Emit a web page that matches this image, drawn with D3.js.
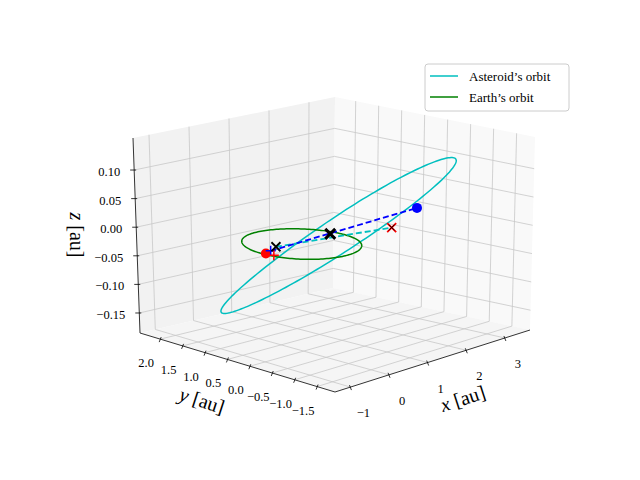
<!DOCTYPE html>
<html><head><meta charset="utf-8">
<script src="https://cdn.jsdelivr.net/npm/d3@7"></script>
<style>body{margin:0;background:#fff}text{font-family:"Liberation Serif","DejaVu Serif",serif}</style>
</head><body><div id="chart"></div>
<script>
// axis limits
const xLim = [-1.4, 3.65], yLim = [-1.9, 2.45], zLim = [-0.185, 0.156];
const xTicks = [-1, 0, 1, 2, 3];
const yTicks = [2.0, 1.5, 1.0, 0.5, 0.0, -0.5, -1.0, -1.5];
const zTicks = [0.10, 0.05, 0.00, -0.05, -0.10, -0.15];

// Earth's orbit: centre + radius (z=0 plane)
const earthCenter = [0, 0, 0];
const earthRadius = 1.0;
// Asteroid's orbit: centre and two conjugate semi-axes
const astCenter = [1.12, 0.2, -0.011];
const astAxisA = [1.50, -1.30, 0.132];
const astAxisB = [1.98, 1.61, -0.094];

// markers [x, y, z]
const earthPos = [-0.94, -0.03, 0];
const asteroidPos = [1.71, -1.05, 0.052];
const bluePlus = [-0.75, 0.03, 0];
const redPlus = [-0.92, -0.19, 0];
const blackSmallX = [-0.48, 0.15, 0];
const blackBigX = [0.86, 0.12, 0];
const redX = [1.76, -0.45, 0.006];

const width = 640, height = 480;
const svg = d3.select('#chart').append('svg').attr('width', width).attr('height', height);

// screen position of the eight box corners, keyed by u,v,w in {0,1}
const corners = {
  '000': [335, 392], '100': [530, 330], '010': [140, 333], '110': [333, 288],
  '001': [329, 188], '101': [535, 137], '011': [133, 138], '111': [335, 97]
};
const su = d3.scaleLinear().domain(xLim).range([0, 1]);
const sv = d3.scaleLinear().domain(yLim).range([0, 1]);
const sw = d3.scaleLinear().domain(zLim).range([0, 1]);

function projN(u, v, w) {
  let X = 0, Y = 0;
  for (const a of [0, 1]) for (const b of [0, 1]) for (const c of [0, 1]) {
    const k = (a ? u : 1 - u) * (b ? v : 1 - v) * (c ? w : 1 - w);
    const p = corners['' + a + b + c];
    X += k * p[0]; Y += k * p[1];
  }
  return [X, Y];
}
const proj = d => projN(su(d[0]), sv(d[1]), sw(d[2]));
const line = d3.line();

// panes
const pane = (pts, fill) => svg.append('path').attr('d', line(pts.map(p => projN(...p))) + 'Z').attr('fill', fill).attr('stroke', 'none');
pane([[0,1,0],[1,1,0],[1,1,1],[0,1,1]], '#f2f2f2');
pane([[1,0,0],[1,1,0],[1,1,1],[1,0,1]], '#f9f9f9');
pane([[0,0,0],[1,0,0],[1,1,0],[0,1,0]], '#f5f5f5');

// grid
const g = svg.append('g').attr('stroke', '#c8c8c8').attr('stroke-width', 0.8).attr('fill', 'none');
const seg = (a, b) => g.append('path').attr('d', line([projN(...a), projN(...b)]));
xTicks.forEach(t => { const u = su(t); seg([u,0,0],[u,1,0]); seg([u,1,0],[u,1,1]); });
yTicks.forEach(t => { const v = sv(t); seg([0,v,0],[1,v,0]); seg([1,v,0],[1,v,1]); });
zTicks.forEach(t => { const w = sw(t); seg([0,1,w],[1,1,w]); seg([1,0,w],[1,1,w]); });

// axes
const ax = svg.append('g').attr('stroke', '#000').attr('stroke-width', 0.8).attr('fill', 'none');
ax.append('path').attr('d', line([projN(0,0,0), projN(1,0,0)]));
ax.append('path').attr('d', line([projN(0,0,0), projN(0,1,0)]));
ax.append('path').attr('d', line([projN(0,1,0), projN(0,1,1)]));
const fmt = d3.format('.1f'), fmt2 = d3.format('.2f');
const minus = s => s.replace('-', '\u2212');
const tl = svg.append('g').attr('font-size', 12.5).attr('fill', '#000');
xTicks.forEach(t => {
  const p = proj([t, yLim[0], zLim[0]]);
  ax.append('path').attr('d', line([[p[0] - 1, p[1] - 2], [p[0] + 1, p[1] + 3]]));
  tl.append('text').attr('x', p[0] + 13).attr('y', p[1] + 30).attr('text-anchor', 'middle').text(minus(String(t)));
});
yTicks.forEach(t => {
  const p = proj([xLim[0], t, zLim[0]]);
  ax.append('path').attr('d', line([[p[0] + 1, p[1] - 2], [p[0] - 1, p[1] + 3]]));
  tl.append('text').attr('x', p[0] - 14).attr('y', p[1] + 28).attr('text-anchor', 'middle').text(minus(fmt(t)));
});
zTicks.forEach(t => {
  const p = proj([xLim[0], yLim[1], t]);
  ax.append('path').attr('d', line([[p[0] - 4, p[1]], [p[0] + 2, p[1]]]));
  tl.append('text').attr('x', p[0] - 14).attr('y', p[1] + 6).attr('text-anchor', 'end').text(minus(fmt2(t)));
});

// axis labels
const lab = (x, y, rot, name) => {
  const t = svg.append('text').attr('transform', `translate(${x},${y}) rotate(${rot})`)
    .attr('text-anchor', 'middle').attr('font-size', 20);
  t.append('tspan').attr('font-style', 'italic').text(name);
  t.append('tspan').text(' [au]');
};
lab(465, 405, -18, 'x');
lab(200, 407, 18, 'y');
lab(70, 235, 90, 'z');

// orbits
const angles = d3.range(0, 361, 2).map(a => a * Math.PI / 180);
const earthPts = angles.map(a => proj([earthCenter[0] + earthRadius * Math.cos(a), earthCenter[1] + earthRadius * Math.sin(a), earthCenter[2]]));
const astPts = angles.map(a => proj(astCenter.map((c, i) => c + astAxisA[i] * Math.cos(a) + astAxisB[i] * Math.sin(a))));
svg.append('path').attr('d', line(astPts)).attr('fill', 'none').attr('stroke', '#00bfbf').attr('stroke-width', 1.5);
svg.append('path').attr('d', line(earthPts)).attr('fill', 'none').attr('stroke', 'green').attr('stroke-width', 1.5);

// dashed lines
svg.append('path').attr('d', line([proj(blackSmallX), proj(redX)])).attr('stroke', '#00bfbf').attr('stroke-width', 1.8).attr('stroke-dasharray', '6,3');
svg.append('path').attr('d', line([proj(bluePlus), proj(asteroidPos)])).attr('stroke', 'blue').attr('stroke-width', 1.8).attr('stroke-dasharray', '6,3');

// markers
const dot = (d, c) => { const p = proj(d); svg.append('circle').attr('cx', p[0]).attr('cy', p[1]).attr('r', 5).attr('fill', c); };
const cross = (d, c, s, w) => { const p = proj(d); svg.append('path').attr('d', `M${p[0]-s},${p[1]-s}L${p[0]+s},${p[1]+s}M${p[0]-s},${p[1]+s}L${p[0]+s},${p[1]-s}`).attr('stroke', c).attr('stroke-width', w); };
const plus = (d, c, s) => { const p = proj(d); svg.append('path').attr('d', `M${p[0]-s},${p[1]}L${p[0]+s},${p[1]}M${p[0]},${p[1]-s}L${p[0]},${p[1]+s}`).attr('stroke', c).attr('stroke-width', 1.5); };
dot(earthPos, 'red');
dot(asteroidPos, 'blue');
plus(bluePlus, 'blue', 5);
plus(redPlus, 'red', 5);
cross(redX, 'red', 4.5, 1.8);
cross(redX, 'black', 3, 1);
cross(blackSmallX, 'black', 4.5, 1.8);
cross(blackBigX, 'black', 5, 3);

// legend
const lg = svg.append('g').attr('transform', 'translate(425,64)');
lg.append('rect').attr('width', 144).attr('height', 47).attr('rx', 3).attr('fill', '#fff').attr('fill-opacity', 0.8).attr('stroke', '#ccc');
[['Asteroid\u2019s orbit', '#00bfbf'], ['Earth\u2019s orbit', 'green']].forEach(([t, c], i) => {
  const y = 12 + i * 21;
  lg.append('line').attr('x1', 5).attr('x2', 33).attr('y1', y).attr('y2', y).attr('stroke', c).attr('stroke-width', 1.5);
  lg.append('text').attr('x', 44).attr('y', y + 4.5).attr('font-size', 13).text(t);
});
</script></body></html>
